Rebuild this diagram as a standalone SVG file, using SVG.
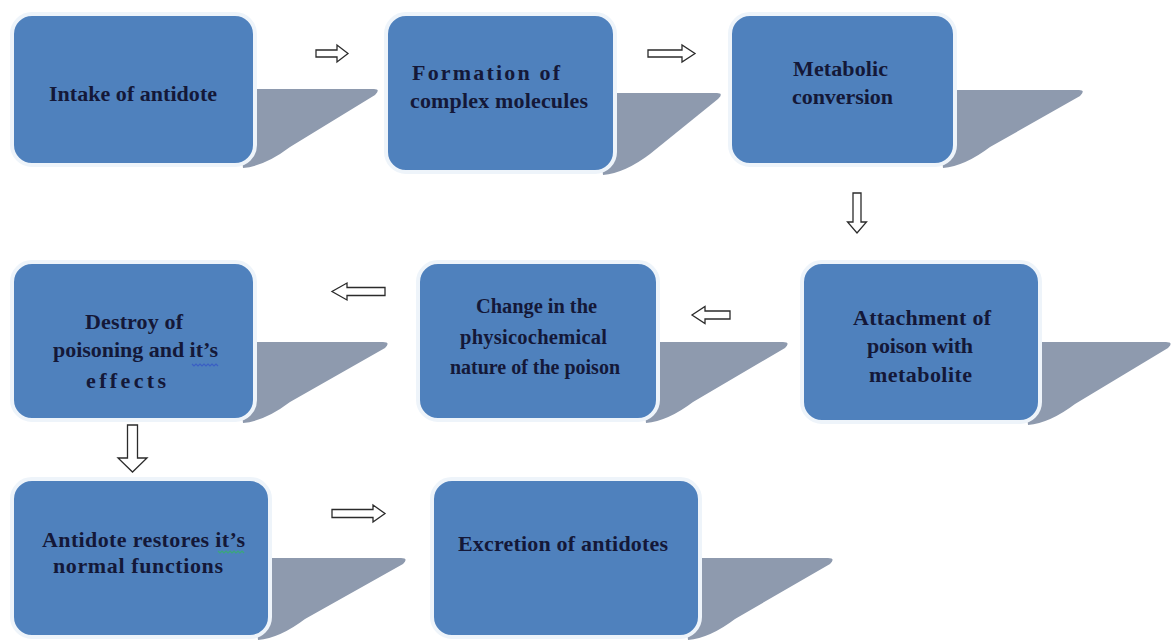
<svg xmlns="http://www.w3.org/2000/svg" width="1174" height="640" viewBox="0 0 1174 640">
  <style>
    .box { fill: #4f81bd; stroke: #eef4fa; stroke-width: 4; }
    .shadow { fill: #8e9aae; }
    .lbl { font-family: "Liberation Serif", "Times New Roman", serif; font-weight: bold; font-size: 22px; fill: #141838; }
    .lbl5 { font-size: 20.5px; }
    .arr { fill: #ffffff; stroke: #2b2b2b; stroke-width: 1.3; stroke-linejoin: miter; }
    .sq { fill: none; stroke-width: 1.2; }
  </style>
  <rect width="1174" height="640" fill="#ffffff"/>

  <g id="node-intake">
    <path class="shadow" d="M235,89 L374,89 Q381,89 375,95 L290,147 Q265,166 243,168 Z"/>
    <rect class="box" x="12" y="14" width="243" height="151" rx="20"/>
    <text class="lbl" x="49" y="101" textLength="168" lengthAdjust="spacing">Intake of antidote</text>
  </g>

  <g id="node-formation">
    <path class="shadow" d="M595,93 L717,93 Q724,93 718,99 L650,154 Q625,173 603,175 Z"/>
    <rect class="box" x="386" y="14" width="229" height="158" rx="20"/>
    <text class="lbl" x="412" y="80" textLength="148" lengthAdjust="spacing">Formation of</text>
    <text class="lbl" x="410" y="108" textLength="178" lengthAdjust="spacing">complex molecules</text>
  </g>

  <g id="node-metabolic">
    <path class="shadow" d="M935,90 L1079,90 Q1086,90 1080,96 L990,147 Q965,166 943,168 Z"/>
    <rect class="box" x="730" y="14" width="225" height="151" rx="20"/>
    <text class="lbl" x="793" y="76" textLength="95" lengthAdjust="spacing">Metabolic</text>
    <text class="lbl" x="792" y="104" textLength="101" lengthAdjust="spacing">conversion</text>
  </g>

  <g id="node-attachment">
    <path class="shadow" d="M1020,342 L1166,342 Q1174,342 1168,348 L1075,404 Q1050,423 1028,425 Z"/>
    <rect class="box" x="802" y="262" width="238" height="160" rx="20"/>
    <text class="lbl" x="853" y="325" textLength="138" lengthAdjust="spacing">Attachment  of</text>
    <text class="lbl" x="867" y="353" textLength="106" lengthAdjust="spacing">poison with</text>
    <text class="lbl" x="869" y="382" textLength="103" lengthAdjust="spacing">metabolite</text>
  </g>

  <g id="node-change">
    <path class="shadow" d="M638,342 L783,342 Q791,342 785,348 L693,402 Q668,421 646,423 Z"/>
    <rect class="box" x="418" y="262" width="240" height="158" rx="20"/>
    <text class="lbl lbl5" x="476" y="313" textLength="121" lengthAdjust="spacingAndGlyphs">Change in the</text>
    <text class="lbl lbl5" x="460" y="344" textLength="147" lengthAdjust="spacing">physicochemical</text>
    <text class="lbl lbl5" x="450" y="374" textLength="170" lengthAdjust="spacingAndGlyphs">nature of the poison</text>
  </g>

  <g id="node-destroy">
    <path class="shadow" d="M235,342 L383,342 Q391,342 385,348 L290,402 Q265,421 243,423 Z"/>
    <rect class="box" x="12" y="262" width="243" height="158" rx="20"/>
    <text class="lbl" x="85" y="329" textLength="98" lengthAdjust="spacing">Destroy of</text>
    <text class="lbl" x="53" y="357" textLength="165" lengthAdjust="spacing">poisoning and it’s</text>
    <text class="lbl" x="86" y="388" textLength="80" lengthAdjust="spacing">effects</text>
    <path class="sq" stroke="#3b5fc4" d="M192,364 l2,2 l2,-2 l2,2 l2,-2 l2,2 l2,-2 l2,2 l2,-2 l2,2 l2,-2 l2,2 l2,-2 l2,2"/>
  </g>

  <g id="node-restores">
    <path class="shadow" d="M250,558 L401,558 Q409,558 403,564 L305,619 Q280,638 258,640 Z"/>
    <rect class="box" x="12" y="479" width="258" height="158" rx="20"/>
    <text class="lbl" x="42" y="547" textLength="203" lengthAdjust="spacing">Antidote  restores it’s</text>
    <text class="lbl" x="53" y="573" textLength="170" lengthAdjust="spacing">normal functions</text>
    <path class="sq" stroke="#3aa87a" d="M218,551 l2,2 l2,-2 l2,2 l2,-2 l2,2 l2,-2 l2,2 l2,-2 l2,2 l2,-2 l2,2 l2,-2 l2,2"/>
  </g>

  <g id="node-excretion">
    <path class="shadow" d="M680,558 L828,558 Q836,558 830,564 L735,619 Q710,638 688,640 Z"/>
    <rect class="box" x="432" y="479" width="268" height="158" rx="20"/>
    <text class="lbl" x="458" y="551" textLength="210" lengthAdjust="spacing">Excretion of antidotes</text>
  </g>

  <g id="connectors">
    <path class="arr" d="M316,50 L337,50 L337,45 L348,53.5 L337,62 L337,57 L316,57 Z"/>
    <path class="arr" d="M648,50 L682,50 L682,45 L695,53.5 L682,62 L682,57 L648,57 Z"/>
    <path class="arr" d="M853,193 L861,193 L861,222 L866.5,222 L857,233 L847.5,222 L853,222 Z"/>
    <path class="arr" d="M385,287.5 L347,287.5 L347,283 L332,291.5 L347,300 L347,295.5 L385,295.5 Z"/>
    <path class="arr" d="M730,311 L705,311 L705,306.5 L692,315 L705,323.5 L705,319 L730,319 Z"/>
    <path class="arr" d="M127.5,425 L137.5,425 L137.5,458 L147,458 L132.5,472 L118,458 L127.5,458 Z"/>
    <path class="arr" d="M332,509.5 L373,509.5 L373,505 L385,513.5 L373,522 L373,517.5 L332,517.5 Z"/>
  </g>
</svg>
